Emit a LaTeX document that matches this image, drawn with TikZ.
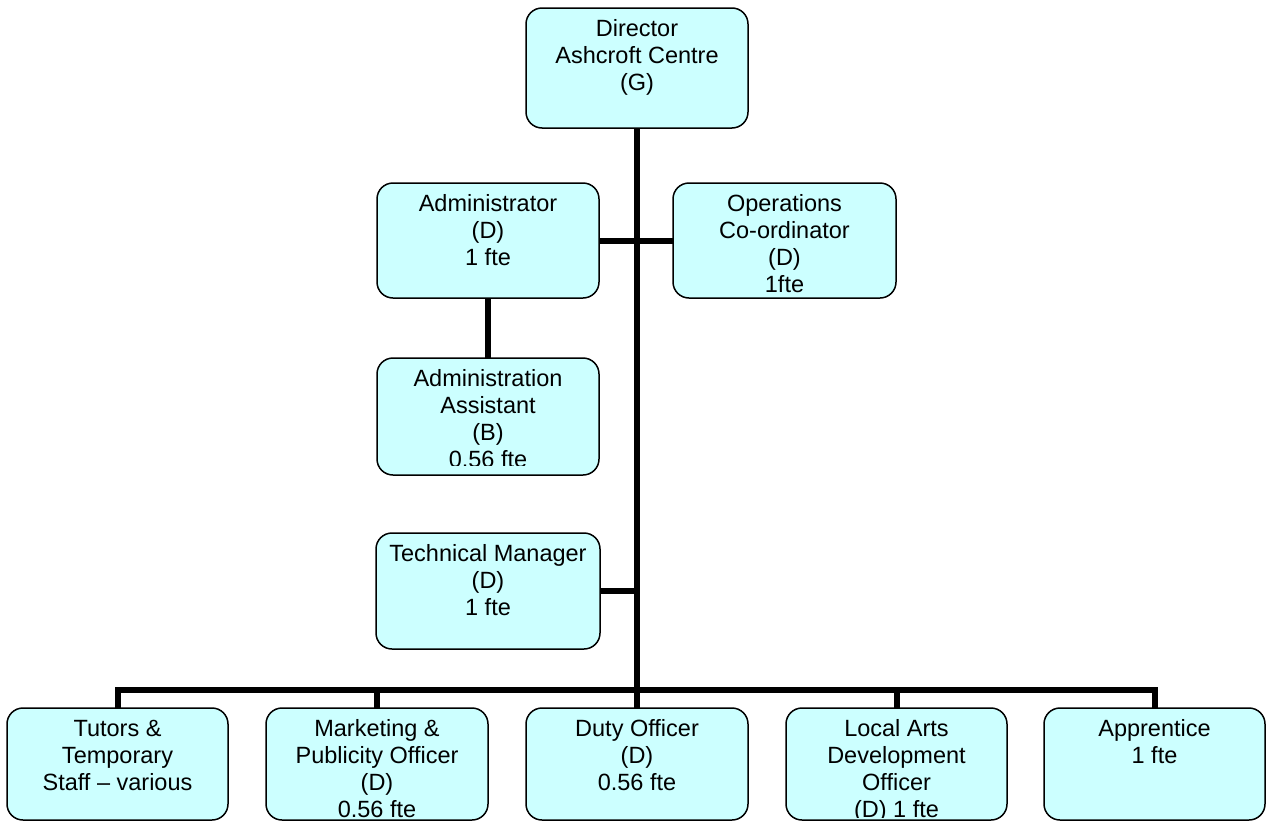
\documentclass[tikz,border=0pt]{standalone}
\usepackage{fontspec}
\setmainfont{Liberation Sans}
\definecolor{boxfill}{HTML}{CCFFFF}
\newcommand{\tstrut}{\rule{0pt}{19pt}}
\newcommand{\obox}[7]{%
  \node[orgbox, minimum width={(#4-#2)*1pt}, minimum height={(#5-#3)*1pt}]
    (#1) at ({(#2+#4)/2},{(#3+#5)/2}) {};
  \begin{scope}
    \clip[rounded corners=14pt] ({#2+1.5},{#3+1.5}) rectangle ({#4-1.5},{#5-#7});
    \node[boxtext, anchor=north] at ({(#2+#4)/2},{#3+9}) {\tstrut #6};
  \end{scope}
}
\begin{document}
\begin{tikzpicture}[x=1pt,y=-1pt,
  orgbox/.style={draw=black, fill=boxfill, line width=1.5pt, rounded corners=16pt, inner sep=0pt, outer sep=0pt},
  boxtext/.style={align=center, inner sep=0pt, font=\fontsize{23.5}{27}\selectfont},
  conn/.style={draw=black, line width=6pt, line join=miter}]
\clip (0,0) rectangle (1266,822);
\fill[white] (0,0) rectangle (1266,822);
\obox{dir}{526}{8}{748}{128}{Director\\Ashcroft Centre\\(G)}{5}
\obox{adm}{377}{183}{599}{298}{Administrator\\(D)\\1 fte}{5}
\obox{ops}{673}{183}{896}{298}{Operations\\Co-ordinator\\(D)\\1fte}{5}
\obox{asst}{377}{358}{599}{475}{Administration\\Assistant\\(B)\\0.56 fte}{10}
\obox{tech}{376}{533}{600}{649}{Technical Manager\\(D)\\1 fte}{5}
\obox{tut}{7}{708}{228}{820}{Tutors \&\\Temporary\\Staff – various}{3}
\obox{mkt}{266}{708}{488}{820}{Marketing \&\\Publicity Officer\\(D)\\0.56 fte}{3}
\obox{duty}{526}{708}{748}{820}{Duty Officer\\(D)\\0.56 fte}{3}
\obox{loc}{786}{708}{1007}{820}{Local Arts\\Development\\Officer\\(D) 1 fte}{3}
\obox{app}{1044}{708}{1265}{820}{Apprentice\\1 fte}{3}
\coordinate (bary) at (0,690);
\draw[conn] (dir.south) -- (duty.north);
\draw[conn] (adm.east) -- (ops.west);
\draw[conn] (adm.south) -- (asst.north);
\draw[conn] (tech.east) -- (tech.east -| dir.south);
\draw[conn] (tut.north) -- (tut.north |- bary) -- (app.north |- bary) -- (app.north);
\draw[conn] (mkt.north) -- (mkt.north |- bary);
\draw[conn] (loc.north) -- (loc.north |- bary);
\end{tikzpicture}
\end{document}
